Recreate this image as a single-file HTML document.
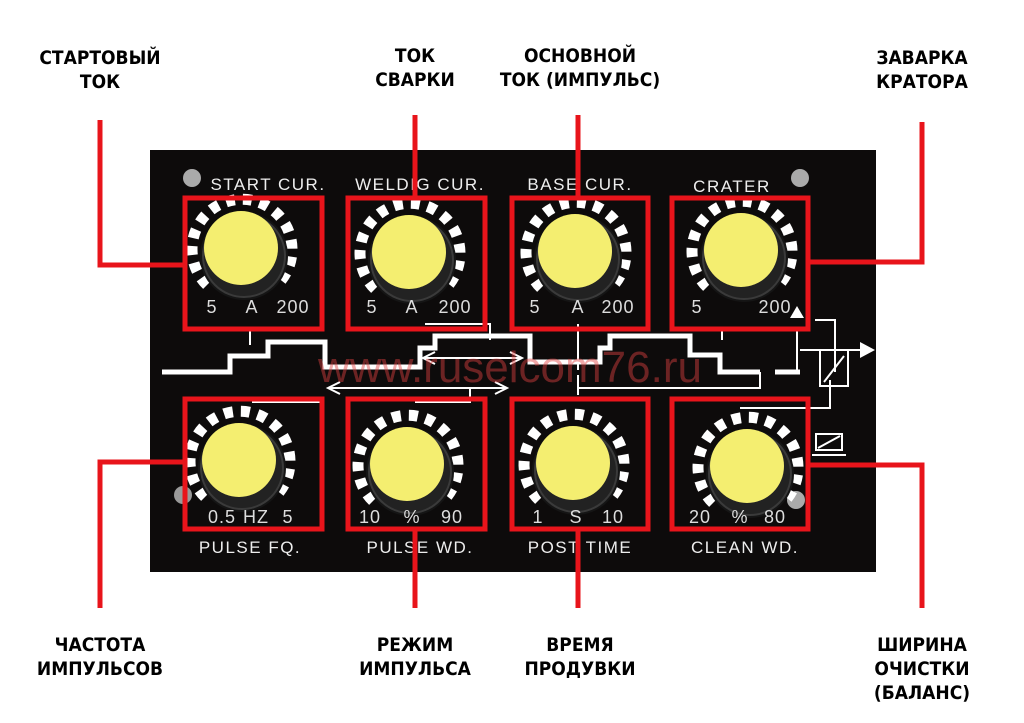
<!DOCTYPE html>
<html><head><meta charset="utf-8"><style>
html,body{margin:0;padding:0;background:#fff;width:1024px;height:723px;overflow:hidden}
svg{display:block}
.lab{font-family:"DejaVu Sans Condensed","DejaVu Sans","Liberation Sans",sans-serif;font-stretch:condensed;font-weight:bold;font-size:19px;fill:#000;text-anchor:middle}
.pt{font-family:"Liberation Sans",sans-serif;font-size:17px;fill:#eee;text-anchor:middle;letter-spacing:1.5px}
.sc{font-family:"Liberation Sans",sans-serif;font-size:18px;fill:#ddd;text-anchor:middle;letter-spacing:1px}
</style></head><body>
<svg width="1024" height="723" viewBox="0 0 1024 723" xmlns="http://www.w3.org/2000/svg">
<defs>
<g id="knob">
  <path d="M-35 35 A50 50 0 1 1 35 35" fill="none" stroke="#fff" stroke-width="11" stroke-dasharray="9 8"/>
  <circle cx="2" cy="6" r="44" fill="#151515"/>
  <circle cx="2" cy="6" r="41" fill="#222" stroke="#3a3a3a" stroke-width="2"/>
  <circle cx="-1" cy="-2" r="37" fill="#f4ee70"/>
</g>
</defs>
<rect x="150" y="150" width="726" height="422" fill="#0d0b0b"/>
<text class="pt" x="268" y="190">START CUR.</text>
<text class="pt" x="420" y="190">WELDIG CUR.</text>
<text class="pt" x="580" y="190">BASE CUR.</text>
<text class="pt" x="732" y="192">CRATER</text>
<text class="pt" x="250" y="553">PULSE FQ.</text>
<text class="pt" x="420" y="553">PULSE WD.</text>
<text class="pt" x="580" y="553">POST TIME</text>
<text class="pt" x="745" y="553">CLEAN WD.</text>
<circle cx="192" cy="178" r="9" fill="#aaa"/><circle cx="800" cy="178" r="9" fill="#aaa"/>
<circle cx="183" cy="495" r="9" fill="#999"/><circle cx="796" cy="500" r="9" fill="#aaa"/>
<g fill="none" stroke="#fff" stroke-width="5">
<path d="M162 372 H230 V356 H268 V342 H325 V367 H420 V348 H435 V336 H530 V362 H600 V348 H610 V336 H690 V355 H720 V372 H760"/>
<path d="M775 372 H800"/>
</g>
<g fill="none" stroke="#fff" stroke-width="2">
<path d="M330 388 H505 M340 382 L328 388 L340 394 M495 382 L507 388 L495 394"/>
<path d="M425 358 H520 M435 352 L423 358 L435 364 M510 352 L522 358 L510 364"/>
<path d="M250 330 V345 M252 402 H322 M425 324 H490 V340 M470 388 V402 H415 M578 324 V370 M578 395 V375 M577 388 H760 V372 M722 328 V340 M740 408 H830 V380"/>
<path d="M800 350 H860 M797 330 V372 M815 320 H835 V372"/>
<rect x="820" y="350" width="28" height="36"/>
<path d="M824 382 L844 356"/>
<rect x="816" y="434" width="26" height="16"/><path d="M818 448 L840 436 M812 455 H846"/>
</g>
<polygon points="860,342 875,350 860,358" fill="#fff"/>
<polygon points="797,306 790,318 804,318" fill="#fff"/>
<text x="510" y="382" font-family="Liberation Sans,sans-serif" font-size="44" fill="#e04040" fill-opacity="0.45" text-anchor="middle">www.ruselcom76.ru</text>
<use href="#knob" x="242" y="250"/><use href="#knob" x="410" y="254"/>
<use href="#knob" x="576" y="253"/><use href="#knob" x="742" y="252"/>
<use href="#knob" x="240" y="462"/><use href="#knob" x="408" y="466"/>
<use href="#knob" x="574" y="465"/><use href="#knob" x="748" y="468"/>
<text class="sc" x="212" y="313">5</text><text class="sc" x="252" y="313">A</text><text class="sc" x="293" y="313">200</text>
<text class="sc" x="372" y="313">5</text><text class="sc" x="412" y="313">A</text><text class="sc" x="455" y="313">200</text>
<text class="sc" x="535" y="313">5</text><text class="sc" x="578" y="313">A</text><text class="sc" x="618" y="313">200</text>
<text class="sc" x="697" y="313">5</text><text class="sc" x="775" y="313">200</text>
<text class="sc" x="222" y="523">0.5</text><text class="sc" x="256" y="523">HZ</text><text class="sc" x="288" y="523">5</text>
<text class="sc" x="370" y="523">10</text><text class="sc" x="412" y="523">%</text><text class="sc" x="452" y="523">90</text>
<text class="sc" x="538" y="523">1</text><text class="sc" x="576" y="523">S</text><text class="sc" x="613" y="523">10</text>
<text class="sc" x="700" y="523">20</text><text class="sc" x="740" y="523">%</text><text class="sc" x="775" y="523">80</text>
<g fill="none" stroke="#e8141b" stroke-width="5">
<rect x="185" y="198" width="137" height="131"/><rect x="348" y="198" width="137" height="131"/>
<rect x="512" y="198" width="136" height="131"/><rect x="672" y="198" width="136" height="131"/>
<rect x="185" y="399" width="137" height="130"/><rect x="348" y="399" width="137" height="130"/>
<rect x="512" y="399" width="136" height="130"/><rect x="672" y="399" width="136" height="130"/>
<path d="M100 120 V265 H185"/><path d="M415 115 V198"/><path d="M578 115 V198"/><path d="M922 122 V262 H808"/>
<path d="M100 608 V462 H185"/><path d="M415 529 V608"/><path d="M578 529 V608"/><path d="M922 608 V465 H808"/>
</g>
<text class="lab" x="100" y="64">СТАРТОВЫЙ</text><text class="lab" x="100" y="88">ТОК</text>
<text class="lab" x="415" y="62">ТОК</text><text class="lab" x="415" y="86">СВАРКИ</text>
<text class="lab" x="580" y="62">ОСНОВНОЙ</text><text class="lab" x="580" y="86">ТОК (ИМПУЛЬС)</text>
<text class="lab" x="922" y="64">ЗАВАРКА</text><text class="lab" x="922" y="88">КРАТОРА</text>
<text class="lab" x="100" y="651">ЧАСТОТА</text><text class="lab" x="100" y="675">ИМПУЛЬСОВ</text>
<text class="lab" x="415" y="651">РЕЖИМ</text><text class="lab" x="415" y="675">ИМПУЛЬСА</text>
<text class="lab" x="580" y="651">ВРЕМЯ</text><text class="lab" x="580" y="675">ПРОДУВКИ</text>
<text class="lab" x="922" y="651">ШИРИНА</text><text class="lab" x="922" y="675">ОЧИСТКИ</text><text class="lab" x="922" y="699">(БАЛАНС)</text>
</svg>
</body></html>
